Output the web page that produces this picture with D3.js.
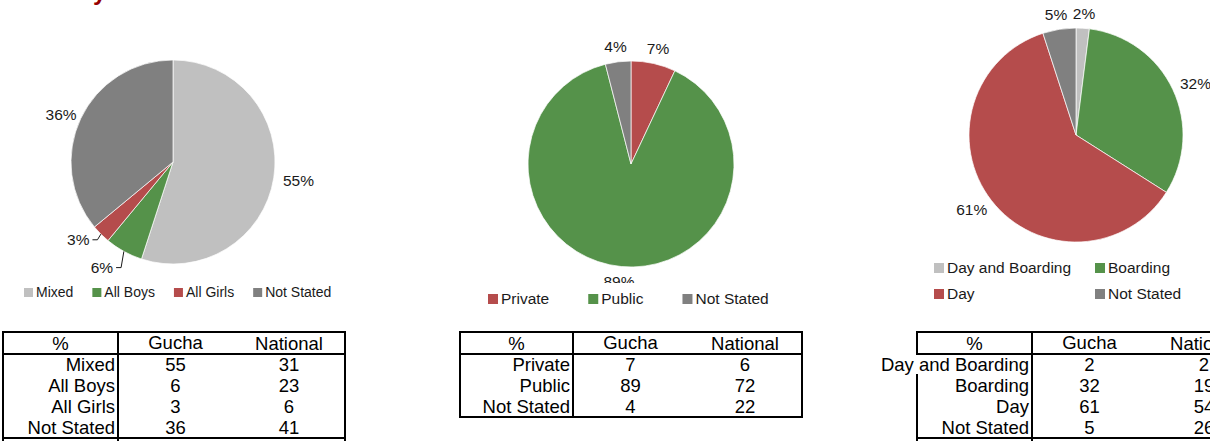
<!DOCTYPE html>
<html>
<head>
<meta charset="utf-8">
<script src="https://cdn.jsdelivr.net/npm/d3@7/dist/d3.min.js"></script>
<style>
  html, body { margin: 0; padding: 0; background: #fff; }
  svg { display: block; font-family: "Liberation Sans", Arial, sans-serif; }
</style>
</head>
<body>
<svg id="chart" width="1210" height="441"></svg>
<script>
// ---------------- data ----------------
const typeCategories = ["Mixed", "All Boys", "All Girls", "Not Stated"];
const typeGucha = [55, 6, 3, 36];
const typeNational = [31, 23, 6, 41];

const ownerCategories = ["Private", "Public", "Not Stated"];
const ownerGucha = [7, 89, 4];
const ownerNational = [6, 72, 22];

const boardCategories = ["Day and Boarding", "Boarding", "Day", "Not Stated"];
const boardGucha = [2, 32, 61, 5];
const boardNational = [2, 19, 54, 26];

const tableHeaders = ["%", "Gucha", "National"];

// ---------------- styles ----------------
const LIGHT = "#c0c0c0", GREEN = "#55924a", RED = "#b54c4c", GRAY = "#808080";
const typeColors = d3.scaleOrdinal().domain(typeCategories).range([LIGHT, GREEN, RED, GRAY]);
const ownerColors = d3.scaleOrdinal().domain(ownerCategories).range([RED, GREEN, GRAY]);
const boardColors = d3.scaleOrdinal().domain(boardCategories).range([LIGHT, GREEN, RED, GRAY]);

const svg = d3.select("#chart");
const TEXT = "#1a1a1a";

// cut-off title fragment at the very top
svg.append("text").attr("x", 93).attr("y", 0)
  .attr("font-size", 24).attr("font-weight", "bold").attr("fill", "#960000").text("y");

function drawPie(cfg) {
  const g = svg.append("g");
  const pie = d3.pie().sort(null).value(d => d.v);
  const data = cfg.cats.map((c, i) => ({ c, v: cfg.vals[i] }));
  const arcs = pie(data);
  const arc = d3.arc().innerRadius(0).outerRadius(cfg.r);
  g.selectAll("path").data(arcs).enter().append("path")
    .attr("transform", `translate(${cfg.cx},${cfg.cy})`)
    .attr("d", arc)
    .attr("fill", d => cfg.color(d.data.c))
    .attr("stroke", "#ffffff").attr("stroke-width", 0.7);

  const fs = cfg.labelSize, gap = 9.5;
  arcs.forEach((a, i) => {
    const mid = (a.startAngle + a.endAngle) / 2;
    const dx = Math.sin(mid), dy = -Math.cos(mid);
    const t = g.append("text").attr("font-size", fs).attr("fill", TEXT)
      .attr("text-anchor", "middle").text(a.data.v + "%");
    const w = t.node().getComputedTextLength(), h = fs * 0.72;
    let x = cfg.cx + dx * (cfg.r + gap) + dx * w / 2;
    let y = cfg.cy + dy * (cfg.r + gap) + dy * h / 2;
    const shift = cfg.shift && cfg.shift[i];
    if (shift) {
      x += shift[0]; y += shift[1];
      const ex = cfg.cx + dx * cfg.r, ey = cfg.cy + dy * cfg.r;
      const lx = x + w / 2 + 3;
      g.append("polyline")
        .attr("points", [[lx, y], [lx + cfg.elbow[i], y], [ex, ey]].map(p => p.join(",")).join(" "))
        .attr("fill", "none").attr("stroke", TEXT).attr("stroke-width", 1);
    }
    t.attr("x", x).attr("y", y + h / 2);
  });
}

function drawLegend(cfg) {
  const g = svg.append("g");
  if (cfg.bg) g.append("rect").attr("x", cfg.bg[0]).attr("y", cfg.bg[1])
      .attr("width", cfg.bg[2]).attr("height", cfg.bg[3]).attr("fill", "#fff");
  let x = cfg.x0;
  cfg.cats.forEach((c, i) => {
    let ix, iy;
    if (cfg.cols) {
      ix = cfg.cols[i % cfg.cols.length];
      iy = cfg.y + Math.floor(i / cfg.cols.length) * cfg.rowH;
    } else { ix = x; iy = cfg.y; }
    g.append("rect").attr("x", ix).attr("y", iy - cfg.sq + 1)
      .attr("width", cfg.sq).attr("height", cfg.sq).attr("fill", cfg.color(c));
    const t = g.append("text").attr("x", ix + cfg.sq + 3).attr("y", iy + 1)
      .attr("font-size", cfg.fs).attr("fill", TEXT).text(c);
    x = ix + cfg.sq + 3 + t.node().getComputedTextLength() + cfg.gap;
  });
}

function drawTable(cfg) {
  const g = svg.append("g");
  const fs = 18.5;
  const x0 = cfg.x0;
  const colX = [x0, x0 + cfg.w[0], x0 + cfg.w[0] + cfg.w[1], x0 + cfg.w[0] + cfg.w[1] + cfg.w[2]];
  const rows = d3.scaleBand().domain(cfg.cats).range([cfg.top + cfg.headH, cfg.top + cfg.headH + cfg.cats.length * cfg.rowH]);
  const bottom = rows.range()[1];
  const line = (x1, y1, x2, y2) => g.append("line").attr("x1", x1).attr("y1", y1).attr("x2", x2).attr("y2", y2)
      .attr("stroke", "#000").attr("stroke-width", 2).attr("stroke-linecap", "square");
  const centers = [(colX[0] + colX[1]) / 2, (colX[1] + colX[2]) / 2, (colX[2] + colX[3]) / 2];
  tableHeaders.forEach((h, i) => {
    g.append("text").attr("x", centers[i]).attr("y", cfg.top + 18 - (i === 1 ? 1.5 : 0))
      .attr("text-anchor", "middle").attr("font-size", fs).attr("fill", "#000").text(h);
  });
  const overflow = [];
  cfg.cats.forEach((c, i) => {
    const y = rows(c) + 17;
    const t = g.append("text").attr("x", colX[1] - 3).attr("y", y).attr("text-anchor", "end")
      .attr("font-size", fs).attr("fill", "#000").text(c);
    overflow.push(t.node().getComputedTextLength() > cfg.w[0] - 4);
    g.append("text").attr("x", centers[1]).attr("y", y).attr("text-anchor", "middle")
      .attr("font-size", fs).attr("fill", "#000").text(cfg.gucha[i]);
    g.append("text").attr("x", centers[2]).attr("y", y).attr("text-anchor", "middle")
      .attr("font-size", fs).attr("fill", "#000").text(cfg.national[i]);
  });
  const ext = cfg.extend || 0;
  line(colX[0], cfg.top, colX[3], cfg.top);
  line(colX[0], cfg.top + cfg.headH, colX[3], cfg.top + cfg.headH);
  line(colX[0], bottom, colX[3], bottom);
  line(colX[1], cfg.top, colX[1], bottom + ext);
  line(colX[3], cfg.top, colX[3], bottom + ext);
  line(colX[0], cfg.top, colX[0], cfg.top + cfg.headH);
  cfg.cats.forEach((c, i) => {
    if (!overflow[i]) line(colX[0], rows(c), colX[0], rows(c) + rows.bandwidth() + (i === cfg.cats.length - 1 ? ext : 0));
  });
}

// ---------------- charts ----------------
drawPie({ cx: 173, cy: 162, r: 102, cats: typeCategories, vals: typeGucha, color: typeColors, labelSize: 15.5,
  shift: { 1: [-12, 3], 2: [-8, -5], 3: [3, 2] }, elbow: { 1: 5, 2: 5 } });
drawLegend({ cats: typeCategories, color: typeColors, x0: 24, y: 296, sq: 9, fs: 14, gap: 19 });

drawPie({ cx: 631, cy: 164, r: 103, cats: ownerCategories, vals: ownerGucha, color: ownerColors, labelSize: 15.5 });
drawLegend({ cats: ownerCategories, color: ownerColors, x0: 488, y: 303, sq: 10, fs: 15.5, gap: 39,
  bg: [470, 283, 330, 30] });

drawPie({ cx: 1076, cy: 135, r: 107, cats: boardCategories, vals: boardGucha, color: boardColors, labelSize: 15.5 });
drawLegend({ cats: boardCategories, color: boardColors, y: 272, sq: 10, fs: 15.5, cols: [934, 1095], rowH: 26 });

// ---------------- tables ----------------
drawTable({ x0: 3, w: [115, 115, 112], top: 332, headH: 22, rowH: 21, cats: typeCategories,
  gucha: typeGucha, national: typeNational, extend: 6 });
drawTable({ x0: 460, w: [113, 115, 114], top: 332, headH: 22, rowH: 21, cats: ownerCategories,
  gucha: ownerGucha, national: ownerNational });
drawTable({ x0: 917, w: [115, 115, 114], top: 332, headH: 22, rowH: 21, cats: boardCategories,
  gucha: boardGucha, national: boardNational, extend: 6 });
</script>
</body>
</html>
